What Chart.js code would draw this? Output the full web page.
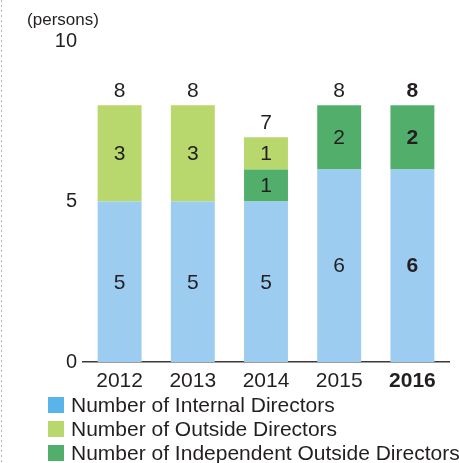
<!DOCTYPE html>
<html>
<head>
<meta charset="utf-8">
<script src="https://cdn.jsdelivr.net/npm/chart.js@4/dist/chart.umd.min.js"></script>
<style>
html, body { margin: 0; padding: 0; background: #fff; }
</style>
</head>
<body>
<canvas id="canvas" width="459" height="463"></canvas>
<script>
var years = ['2012', '2013', '2014', '2015', '2016'];
var internalDirectors = [5, 5, 5, 6, 6];
var independentDirectors = [0, 0, 1, 2, 2];
var outsideDirectors = [3, 3, 1, 0, 0];
var yTicks = [0, 5, 10];
var seriesNames = ['Number of Internal Directors', 'Number of Outside Directors', 'Number of Independent Outside Directors'];
var unitLabel = '(persons)';
var boldYear = '2016';

var textColor = '#231f20';
var fontFamily = '"Liberation Sans", Arial, sans-serif';
var barColors = { internal: '#9ccdf0', outside: '#b8d76d', independent: '#52ae6b' };
var legendColors = ['#5ab4ea', '#b8d76d', '#52ae6b'];

function isBold(i) { return years[i] === boldYear; }
function fontStr(i, size) { return (isBold(i) ? 'bold ' : '') + size + 'px ' + fontFamily; }

// value labels inside segments, totals above bars, legend, unit label
var decorPlugin = {
	id: 'decor',
	beforeDraw: function(chart) {
		var ctx = chart.ctx;
		ctx.save();
		ctx.strokeStyle = '#b5b5b5';
		ctx.lineWidth = 1;
		ctx.setLineDash([2, 3]);
		ctx.beginPath();
		ctx.moveTo(1.5, 0);
		ctx.lineTo(1.5, chart.height);
		ctx.stroke();
		ctx.restore();
	},
	afterDatasetsDraw: function(chart) {
		var ctx = chart.ctx;
		var yScale = chart.scales.y;
		ctx.save();
		ctx.textAlign = 'center';
		ctx.textBaseline = 'middle';
		ctx.fillStyle = textColor;
		chart.data.datasets.forEach(function(ds, i) {
			var meta = chart.getDatasetMeta(i);
			meta.data.forEach(function(bar, j) {
				var v = ds.data[j];
				if (!v) return;
				ctx.font = fontStr(j, 21);
				ctx.fillText(String(v), bar.x, (bar.y + bar.base) / 2 + 1);
			});
		});
		var meta0 = chart.getDatasetMeta(0);
		years.forEach(function(y, j) {
			var total = internalDirectors[j] + independentDirectors[j] + outsideDirectors[j];
			ctx.font = fontStr(j, 21);
			ctx.fillText(String(total), meta0.data[j].x, yScale.getPixelForValue(total) - 14);
		});
		ctx.restore();
	},
	afterDraw: function(chart) {
		var ctx = chart.ctx;
		ctx.save();
		ctx.fillStyle = textColor;
		ctx.textBaseline = 'middle';
		ctx.textAlign = 'center';
		ctx.font = '17px ' + fontFamily;
		ctx.fillText(unitLabel, 63, 20);

		ctx.textAlign = 'left';
		ctx.font = '21px ' + fontFamily;
		seriesNames.forEach(function(name, k) {
			var cy = 405 + k * 24;
			ctx.fillStyle = legendColors[k];
			ctx.fillRect(48, cy - 8, 16, 16);
			ctx.fillStyle = textColor;
			ctx.fillText(name, 71, cy + 1);
		});
		ctx.restore();
	}
};

var ctx = document.getElementById('canvas').getContext('2d');
var chart = new Chart(ctx, {
	type: 'bar',
	data: {
		labels: years,
		datasets: [{
			label: seriesNames[0],
			data: internalDirectors,
			backgroundColor: barColors.internal
		}, {
			label: seriesNames[2],
			data: independentDirectors,
			backgroundColor: barColors.independent
		}, {
			label: seriesNames[1],
			data: outsideDirectors,
			backgroundColor: barColors.outside
		}]
	},
	options: {
		responsive: false,
		animation: false,
		layout: { padding: { left: 0, right: 10, top: 41, bottom: 61 } },
		plugins: {
			legend: { display: false },
			tooltip: { enabled: false }
		},
		datasets: {
			bar: { barPercentage: 0.6, categoryPercentage: 1, borderWidth: 0 }
		},
		scales: {
			x: {
				stacked: true,
				grid: { display: false, drawTicks: false },
				border: { display: true, color: '#3e3a39', width: 1.5 },
				ticks: {
					color: textColor,
					padding: 7,
					font: function(c) { return { family: fontFamily, size: 21, weight: isBold(c.index) ? 'bold' : 'normal' }; }
				},
				afterFit: function(s) { s.height = 40; }
			},
			y: {
				stacked: true,
				min: 0,
				max: 10,
				grid: { display: false, drawTicks: false },
				border: { display: false },
				afterBuildTicks: function(s) { s.ticks = yTicks.map(function(v) { return { value: v }; }); },
				ticks: {
					color: textColor,
					padding: 6,
					font: { family: fontFamily, size: 20 }
				},
				afterFit: function(s) { s.width = 83; }
			}
		}
	},
	plugins: [decorPlugin]
});
</script>
</body>
</html>
